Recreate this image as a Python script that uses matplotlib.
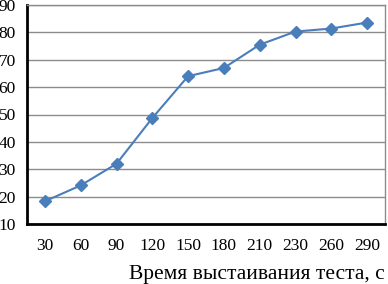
import matplotlib
matplotlib.use("Agg")
import matplotlib.pyplot as plt

times = ["30", "60", "90", "120", "150", "180", "210", "230", "260", "290"]
values = [18.3, 24.1, 32.0, 48.7, 64.0, 67.0, 75.5, 80.3, 81.4, 83.6]

plt.rcParams['font.family'] = ['Liberation Serif', 'DejaVu Serif']

fig = plt.figure(figsize=(3.88, 2.84), dpi=100)
ax = fig.add_axes([27 / 388, 1 - 224 / 284, 358 / 388, 219 / 284])

x = list(range(len(times)))
ax.plot(x, values, color='#4a7ebb', linewidth=1.5, marker='D',
        markersize=6, markerfacecolor='#4a7ebb', markeredgecolor='#4a7ebb')

ax.set_xlim(-0.5, len(times) - 0.5)
ax.set_ylim(10, 90)
ax.set_yticks(range(10, 91, 10))
ax.set_xticks(x)
ax.set_xticklabels(times)
ax.grid(axis='y', color='#8c8c8c', linewidth=1)
ax.set_axisbelow(True)
ax.tick_params(length=0, labelsize=12.5, colors='black')
ax.tick_params(axis='x', pad=10)
ax.tick_params(axis='y', pad=8)

for s in ['left', 'bottom']:
    ax.spines[s].set_color('black')
    ax.spines[s].set_linewidth(2)
for s in ['top', 'right']:
    ax.spines[s].set_color('#8c8c8c')
    ax.spines[s].set_linewidth(1)

fig.text(385 / 388, 1 - 274 / 284, "Время выстаивания теста, с",
         ha='right', va='center', fontsize=15.5)

fig.savefig("out.png", dpi=100)
